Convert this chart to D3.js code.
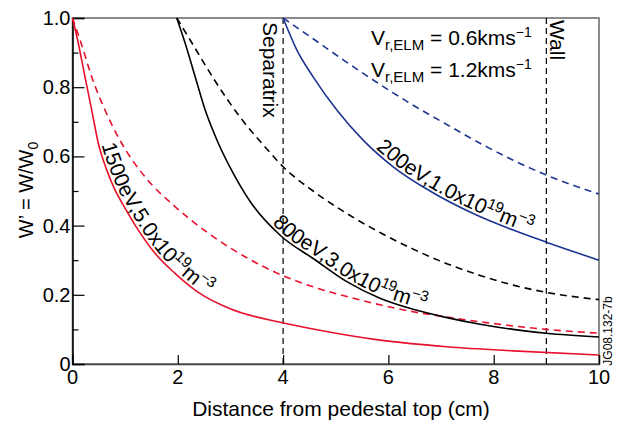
<!DOCTYPE html>
<meta charset="utf-8" />
<title>W' versus distance from pedestal top</title>
<style>
  body { margin: 0; background: #fff; }
  svg text { font-family: "Liberation Sans", Arial, Helvetica, sans-serif; fill: #000; }
  .curve { fill: none; stroke-width: 1.6px; }
  .marker { stroke: #000; stroke-width: 1.2px; stroke-dasharray: 6,4; }
</style>
<body>
<script src="https://d3js.org/d3.v7.min.js"></script>
<script>
  // tick values
  var xTicks = [0, 2, 4, 6, 8, 10];
  var yTicks = [0, 0.2, 0.4, 0.6, 0.8, 1.0];
  var yMinor = [0.1, 0.3, 0.5, 0.7, 0.9];

  // 1500eV, 5.0x10^19 m^-3 (red)
  var redSolidX = [0, 0.11, 0.237, 0.365, 0.49, 0.65, 0.807, 1.0, 1.25, 1.567, 1.947, 2.39, 3.02, 3.97, 4.57, 5.84, 7.11, 8.37, 10];
  var redSolidY = [1.0, 0.927, 0.83, 0.734, 0.638, 0.561, 0.503, 0.45, 0.387, 0.32, 0.262, 0.207, 0.158, 0.12, 0.101, 0.069, 0.05, 0.038, 0.026];
  var redDashX = [0, 0.175, 0.365, 0.617, 0.934, 1.377, 1.947, 2.58, 3.276, 3.97, 4.57, 5.21, 5.84, 6.47, 7.11, 7.74, 8.37, 9.0, 10];
  var redDashY = [1.0, 0.922, 0.83, 0.734, 0.638, 0.541, 0.455, 0.378, 0.31, 0.257, 0.223, 0.195, 0.171, 0.151, 0.136, 0.122, 0.11, 0.1, 0.089];

  // 800eV, 3.0x10^19 m^-3 (black)
  var blackSolidX = [1.98, 2.14, 2.33, 2.52, 2.77, 3.09, 3.4, 3.96, 4.57, 5.21, 5.84, 6.47, 7.11, 7.74, 8.37, 9.0, 10];
  var blackSolidY = [1.0, 0.927, 0.83, 0.734, 0.638, 0.541, 0.464, 0.37, 0.305, 0.238, 0.19, 0.158, 0.134, 0.115, 0.1, 0.089, 0.078];
  var blackDashX = [1.98, 2.3, 2.7, 3.2, 3.7, 4.0, 4.57, 5.21, 5.84, 6.47, 7.11, 7.74, 8.37, 9.0, 10];
  var blackDashY = [1.0, 0.92, 0.82, 0.71, 0.62, 0.57, 0.5, 0.435, 0.38, 0.332, 0.29, 0.256, 0.228, 0.207, 0.186];

  // 200eV, 1.0x10^19 m^-3 (blue)
  var blueSolidX = [4, 4.26, 4.57, 5.02, 5.52, 6.09, 6.79, 7.61, 8.37, 9.0, 10];
  var blueSolidY = [1.0, 0.908, 0.83, 0.734, 0.647, 0.57, 0.5, 0.435, 0.387, 0.352, 0.3];
  var blueDashX = [4, 4.57, 5.21, 5.84, 6.47, 7.11, 7.74, 8.37, 9.0, 10];
  var blueDashY = [1.0, 0.94, 0.872, 0.808, 0.748, 0.692, 0.638, 0.589, 0.546, 0.491];

  var separatrixX = 4, wallX = 9;

  var red = "#e8112d", blue = "#1d3591", black = "#000";

  var width = 621, height = 430;
  var margin = { top: 18, right: 22, bottom: 66, left: 72.5 };

  var x = d3.scaleLinear().domain([0, 10]).range([margin.left, width - margin.right]);
  var y = d3.scaleLinear().domain([0, 1]).range([height - margin.bottom, margin.top]);

  var svg = d3.select("body").append("svg")
    .attr("width", width)
    .attr("height", height);

  // frame
  svg.append("rect")
    .attr("x", x(0)).attr("y", y(1))
    .attr("width", x(10) - x(0)).attr("height", y(0) - y(1))
    .attr("fill", "none").attr("stroke", "#666").attr("stroke-width", 1.5);

  // axes with inward ticks
  var xAxis = svg.append("g")
    .attr("transform", "translate(0," + y(0) + ")")
    .call(d3.axisTop(x).tickValues(xTicks).tickSize(9).tickFormat(""));
  xAxis.select(".domain").attr("stroke", "#444").attr("stroke-width", 1.5);

  var yAxis = svg.append("g")
    .attr("transform", "translate(" + x(0) + ",0)")
    .call(d3.axisRight(y).tickValues(yTicks).tickSize(12).tickFormat(""));
  yAxis.select(".domain").attr("stroke", "#000").attr("stroke-width", 1.5);

  svg.append("g")
    .attr("transform", "translate(" + x(0) + ",0)")
    .call(d3.axisRight(y).tickValues(yMinor).tickSize(6).tickFormat(""))
    .select(".domain").remove();

  svg.selectAll(".tick line").attr("stroke-width", 1.2);

  // tick labels
  svg.append("g").selectAll("text")
    .data(xTicks).join("text")
    .attr("x", function (d) { return x(d); })
    .attr("y", y(0) + 20)
    .attr("text-anchor", "middle")
    .attr("font-size", 20)
    .text(function (d) { return d; });

  svg.append("g").selectAll("text")
    .data(yTicks).join("text")
    .attr("x", x(0) - 2)
    .attr("y", function (d) { return y(d) + 7; })
    .attr("text-anchor", "end")
    .attr("font-size", 20)
    .text(function (d) { return d === 0 ? "0" : d.toFixed(1); });

  // axis titles
  svg.append("text")
    .attr("x", 341)
    .attr("y", 416)
    .attr("text-anchor", "middle")
    .attr("font-size", 21)
    .text("Distance from pedestal top (cm)");

  var yTitle = svg.append("text")
    .attr("transform", "translate(33,190) rotate(-90)")
    .attr("text-anchor", "middle")
    .attr("font-size", 20);
  yTitle.append("tspan").text("W\u2019 = W/W");
  yTitle.append("tspan").attr("font-size", 14).attr("dy", 5).text("0");

  // separatrix and wall
  svg.selectAll(".marker")
    .data([separatrixX, wallX]).join("line")
    .attr("class", "marker")
    .attr("x1", function (d) { return x(d); })
    .attr("x2", function (d) { return x(d); })
    .attr("y1", y(0)).attr("y2", y(1));

  svg.append("text")
    .attr("transform", "translate(263,22) rotate(90)")
    .attr("font-size", 21)
    .text("Separatrix");

  svg.append("text")
    .attr("transform", "translate(550,20) rotate(90)")
    .attr("font-size", 21)
    .text("Wall");

  // curves
  var line = d3.line()
    .x(function (d) { return x(d[0]); })
    .y(function (d) { return y(d[1]); })
    .curve(d3.curveMonotoneX);

  function pairs(xs, ys) {
    return xs.map(function (v, i) { return [v, ys[i]]; });
  }

  var series = [
    { id: "redSolid", data: pairs(redSolidX, redSolidY), color: red, dash: null },
    { id: "redDash", data: pairs(redDashX, redDashY), color: red, dash: "7,5" },
    { id: "blackSolid", data: pairs(blackSolidX, blackSolidY), color: black, dash: null },
    { id: "blackDash", data: pairs(blackDashX, blackDashY), color: black, dash: "7,5" },
    { id: "blueSolid", data: pairs(blueSolidX, blueSolidY), color: blue, dash: null },
    { id: "blueDash", data: pairs(blueDashX, blueDashY), color: blue, dash: "7,5" }
  ];

  svg.append("g").selectAll("path")
    .data(series).join("path")
    .attr("class", "curve")
    .attr("id", function (d) { return d.id; })
    .attr("d", function (d) { return line(d.data); })
    .attr("stroke", function (d) { return d.color; })
    .attr("stroke-dasharray", function (d) { return d.dash; });

  // length along a path where it reaches a given x (px)
  function lengthAtX(id, px) {
    var p = document.getElementById(id);
    var lo = 0, hi = p.getTotalLength();
    for (var k = 0; k < 40; k++) {
      var mid = (lo + hi) / 2;
      if (p.getPointAtLength(mid).x < px) lo = mid; else hi = mid;
    }
    return lo;
  }

  // labels that follow the solid curves
  var curveLabels = [
    { id: "redSolid", start: 0.5, main: "1500eV,5.0x10" },
    { id: "blackSolid", start: 3.75, main: "800eV,3.0x10" },
    { id: "blueSolid", start: 5.72, main: "200eV,1.0x10" }
  ];

  curveLabels.forEach(function (l) {
    var tp = svg.append("text")
      .attr("font-size", 21)
      .append("textPath")
      .attr("href", "#" + l.id)
      .attr("startOffset", lengthAtX(l.id, x(l.start)));
    tp.append("tspan").attr("dy", -3).text(l.main);
    tp.append("tspan").attr("font-size", 15).attr("dy", -8).text("19");
    tp.append("tspan").attr("dy", 8).text("m");
    tp.append("tspan").attr("font-size", 15).attr("dy", -8).text("\u22123");
  });

  // velocity annotations
  var vLabels = ["0.6", "1.2"];
  vLabels.forEach(function (v, i) {
    var t = svg.append("text")
      .attr("x", 371)
      .attr("y", 45 + i * 32)
      .attr("font-size", 21);
    t.append("tspan").text("V");
    t.append("tspan").attr("font-size", 15).attr("dy", 5).text("r,ELM");
    t.append("tspan").attr("dy", -5).text(" = " + v + "kms");
    t.append("tspan").attr("font-size", 14).attr("dy", -8).text("\u22121");
  });

  svg.append("text")
    .attr("transform", "translate(612,331) rotate(-90)")
    .attr("text-anchor", "middle")
    .attr("font-size", 12)
    .text("JG08.132-7b");
</script>
</body>
